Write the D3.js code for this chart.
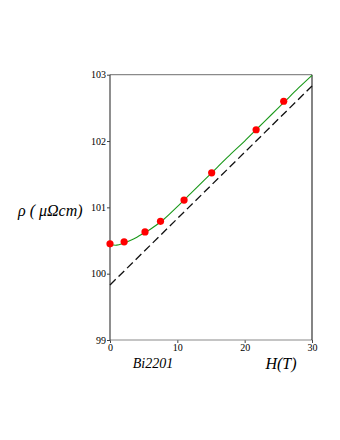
<!DOCTYPE html>
<html>
<head>
<meta charset="utf-8">
<script src="https://cdn.jsdelivr.net/npm/d3@7"></script>
<style>
  html, body { margin: 0; padding: 0; background: #fff; }
  svg { display: block; }
  svg text { font-family: "Liberation Serif", "Times New Roman", serif; }
</style>
</head>
<body>
<svg id="chart" width="340" height="440"></svg>
<script>
// Data
const pointH   = [0, 2.1, 5.2, 7.5, 11.0, 15.1, 21.7, 25.8];
const pointRho = [100.45, 100.48, 100.63, 100.79, 101.11, 101.52, 102.17, 102.60];

const curveH   = [0, 1, 2, 3, 4, 5, 6, 8, 10, 12, 14, 16, 18, 20, 22, 24, 26, 28, 30];
const curveRho = [100.44, 100.43, 100.46, 100.50, 100.55, 100.61, 100.67, 100.82, 101.01, 101.21, 101.41, 101.61, 101.81, 102.00, 102.20, 102.40, 102.60, 102.80, 102.99];

const asymH   = [0, 30];
const asymRho = [99.83, 102.83];

const xTicks = [0, 10, 20, 30];
const yTicks = [99, 100, 101, 102, 103];

const svg = d3.select("#chart");
const x = d3.scaleLinear().domain([0, 30]).range([110, 312]);
const y = d3.scaleLinear().domain([99, 103]).range([340, 74.7]);

// axes
const gx = svg.append("g").attr("transform", `translate(0,${y(99)})`)
  .call(d3.axisBottom(x).tickValues(xTicks).tickSize(3).tickPadding(1).tickFormat(d3.format("d")));
const gy = svg.append("g").attr("transform", `translate(${x(0)},0)`)
  .call(d3.axisLeft(y).tickValues(yTicks).tickSize(3).tickPadding(1).tickFormat(d3.format("d")));
[gx, gy].forEach(g => {
  g.attr("font-family", null);
  g.select(".domain").remove();
  g.selectAll(".tick line").attr("stroke", "#444");
  g.selectAll(".tick text").attr("font-size", 10).attr("fill", "#000");
});

// frame
svg.append("line").attr("x1", x(0)).attr("x2", x(30)).attr("y1", y(103)).attr("y2", y(103))
  .attr("stroke", "#8a8a8a").attr("stroke-width", 1.2);
svg.append("line").attr("x1", x(0)).attr("x2", x(30)).attr("y1", y(99)).attr("y2", y(99))
  .attr("stroke", "#8a8a8a").attr("stroke-width", 1.2);
svg.append("line").attr("x1", x(0)).attr("x2", x(0)).attr("y1", y(99)).attr("y2", y(103))
  .attr("stroke", "#444").attr("stroke-width", 1.2);
svg.append("line").attr("x1", x(30)).attr("x2", x(30)).attr("y1", y(99)).attr("y2", y(103))
  .attr("stroke", "#333").attr("stroke-width", 1.2);

// dashed asymptote
const asym = asymH.map((h, i) => [h, asymRho[i]]);
svg.append("path").datum(asym)
  .attr("d", d3.line().x(d => x(d[0])).y(d => y(d[1])))
  .attr("fill", "none").attr("stroke", "#111").attr("stroke-width", 1.3)
  .attr("stroke-dasharray", "8,4");

// green fit curve
const curve = curveH.map((h, i) => [h, curveRho[i]]);
svg.append("path").datum(curve)
  .attr("d", d3.line().x(d => x(d[0])).y(d => y(d[1])).curve(d3.curveCatmullRom))
  .attr("fill", "none").attr("stroke", "#1a991a").attr("stroke-width", 1.1);

// red points
svg.selectAll("circle.pt").data(pointH.map((h, i) => [h, pointRho[i]]))
  .enter().append("circle").attr("class", "pt")
  .attr("cx", d => x(d[0])).attr("cy", d => y(d[1])).attr("r", 3.6)
  .attr("fill", "#ff0000");

// labels
svg.append("text").attr("x", 18).attr("y", 216)
  .attr("font-style", "italic").attr("font-size", 16)
  .attr("xml:space", "preserve")
  .text("ρ ( μΩcm)");
svg.append("text").attr("x", 153).attr("y", 368).attr("text-anchor", "middle")
  .attr("font-style", "italic").attr("font-size", 14)
  .text("Bi2201");
svg.append("text").attr("x", 281).attr("y", 369).attr("text-anchor", "middle")
  .attr("font-style", "italic").attr("font-size", 16)
  .text("H(T)");
</script>
</body>
</html>
